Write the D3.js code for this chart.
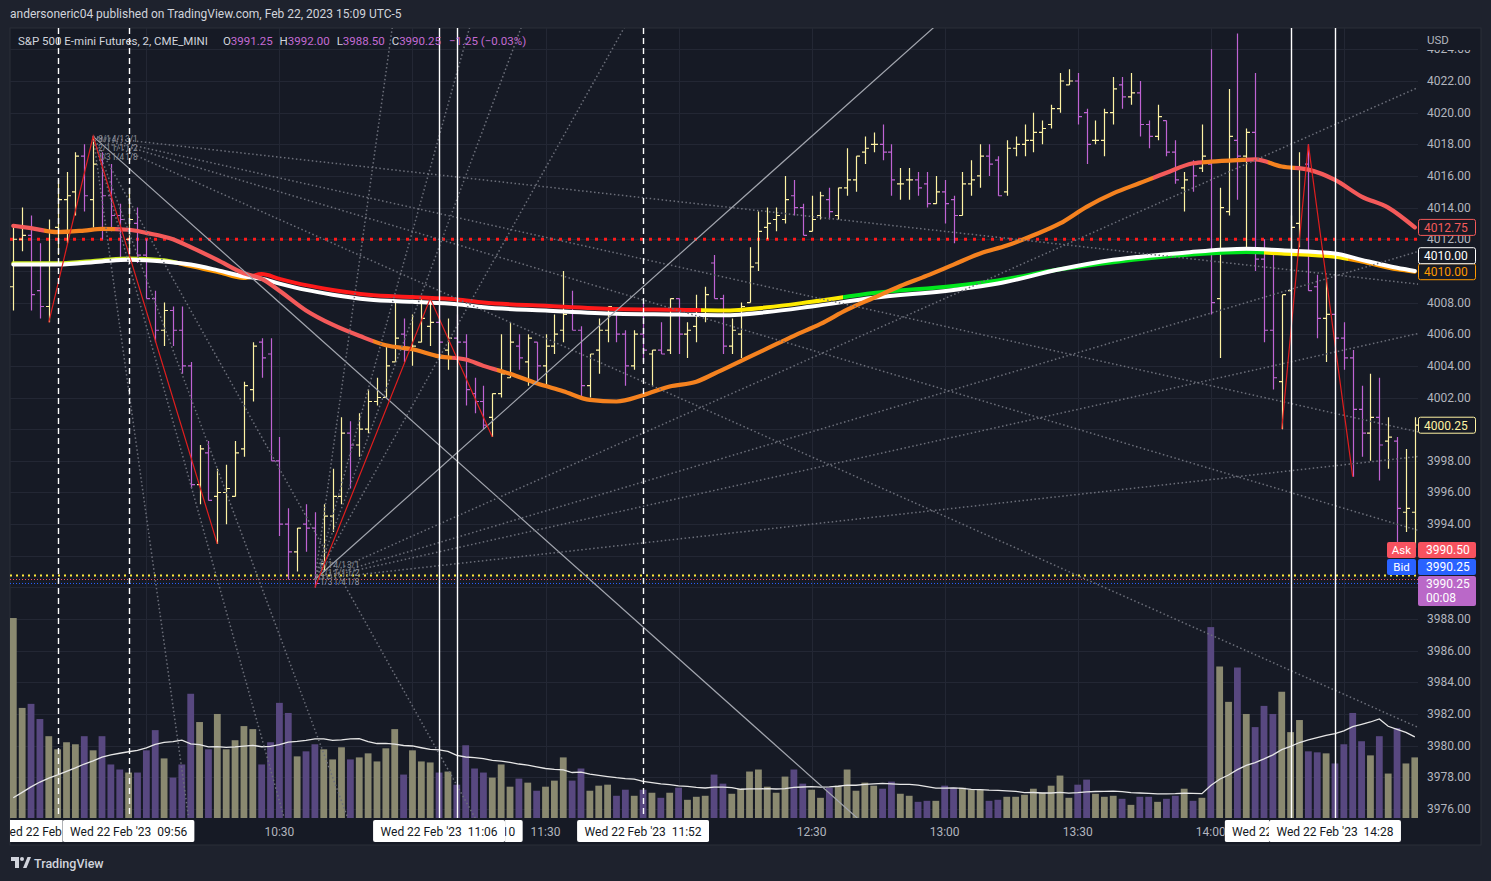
<!DOCTYPE html>
<html><head><meta charset="utf-8"><title>ES 2m</title>
<script src="https://cdn.jsdelivr.net/npm/d3@7/dist/d3.min.js"></script>
<style>html,body{margin:0;padding:0;background:#1e222d;overflow:hidden}svg{display:block}text{font-family:Roboto,"Liberation Sans",sans-serif}</style>
</head><body><svg id="chart" width="1491" height="881"></svg>
<script>
// ---------------- DATA ----------------
const startMinutes = 570;      // 09:30
const intervalMinutes = 2;
const opens = [
4009.0,4012.0,4012.25,4008.75,4007.75,4012.75,4014.5,4015.0,4017.25,4014.5,
4017.0,4014.75,4013.5,4012.0,4013.0,4011.0,4008.25,4006.25,4007.5,4006.25,
4004.0,3996.5,3998.5,3995.75,3996.0,3995.75,3998.75,4002.5,4005.5,4004.75,
3998.0,3994.0,3992.25,3994.0,3993.75,3991.5,3994.5,3995.75,3999.75,3999.0,
4000.0,4001.75,4002.0,4004.25,4006.0,4005.0,4005.5,4006.5,4006.75,4005.0,
4005.75,4005.5,4002.25,4001.75,4000.75,4002.25,4003.25,4005.25,4004.25,4005.5,
4004.0,4005.25,4006.25,4007.5,4006.25,4002.75,4005.0,4006.25,4007.25,4006.0,
4004.0,4006.0,4004.75,4005.0,4005.0,4008.25,4006.0,4006.5,4007.5,4010.5,
4008.25,4005.25,4006.0,4008.0,4010.5,4012.75,4013.25,4013.25,4014.75,4014.0,
4012.5,4013.5,4014.5,4013.5,4015.25,4015.75,4017.5,4018.0,4018.0,4017.5,
4015.5,4015.75,4015.75,4015.5,4014.25,4015.0,4014.5,4013.5,4015.5,4016.0,
4017.25,4017.0,4015.0,4017.75,4018.0,4018.25,4018.75,4019.25,4020.25,4021.75,
4022.0,4020.0,4018.25,4018.25,4020.0,4021.75,4021.0,4021.25,4019.25,4018.5,
4019.5,4017.5,4015.25,4016.75,4016.5,4016.75,4008.25,4013.75,4018.25,4017.25,
4018.75,4010.75,4006.25,4003.0,4008.75,4013.0,4016.75,4009.0,4007.0,4007.25,
4005.75,4004.5,4001.25,3999.75,4000.75,3999.25,3999.25,3994.75,3994.75];
const highs = [
4012.75,4014.0,4013.5,4011.75,4013.25,4015.75,4016.25,4017.5,4018.0,4018.5,
4017.5,4016.75,4014.25,4015.25,4014.0,4012.0,4008.75,4008.0,4007.75,4007.75,
4004.25,3999.0,3999.25,3997.5,3997.75,3999.25,4003.0,4005.5,4005.75,4005.75,
3999.5,3995.0,3993.75,3995.25,3994.75,3995.25,3997.5,4000.75,4000.5,4001.0,
4002.5,4003.25,4005.25,4008.0,4007.0,4007.25,4008.25,4008.25,4007.75,4007.0,
4007.25,4006.0,4003.25,4002.75,4002.25,4006.0,4006.75,4006.0,4006.0,4005.5,
4006.0,4007.25,4010.0,4008.75,4006.5,4004.75,4007.0,4007.75,4007.25,4006.25,
4006.25,4008.0,4005.0,4006.75,4008.25,4008.25,4006.75,4008.5,4009.0,4011.0,
4008.5,4007.0,4008.0,4011.5,4013.75,4014.0,4014.0,4016.0,4015.75,4014.25,
4014.75,4015.0,4015.25,4015.25,4017.75,4017.25,4018.5,4018.75,4019.25,4018.0,
4016.5,4016.5,4016.25,4016.25,4016.0,4015.75,4014.75,4016.25,4017.0,4018.0,
4018.0,4017.25,4018.25,4018.5,4019.25,4020.0,4019.5,4020.5,4022.5,4022.75,
4022.5,4020.25,4019.5,4020.25,4022.25,4022.25,4022.5,4022.0,4019.5,4020.5,
4019.5,4018.25,4016.25,4017.0,4019.25,4024.0,4015.25,4021.5,4025.0,4019.0,
4022.5,4012.0,4011.25,4008.5,4013.5,4017.5,4018.0,4009.75,4009.5,4009.75,
4006.75,4005.0,4002.75,4003.5,4003.25,4000.75,3999.5,3998.75,4000.75];
const lows = [
4007.5,4011.25,4007.5,4007.0,4006.75,4011.0,4011.75,4013.5,4013.75,4012.75,
4012.0,4012.5,4010.75,4010.75,4010.5,4008.25,4005.5,4005.25,4005.25,4003.5,
3996.25,3995.25,3995.5,3992.75,3994.0,3995.75,3998.25,4001.75,4003.25,3998.0,
3993.25,3990.5,3991.0,3992.25,3990.0,3991.0,3993.5,3995.25,3996.25,3998.25,
3999.75,4001.5,4002.0,4004.25,4004.25,4004.0,4005.5,4005.25,4004.5,4003.75,
4004.25,4001.5,4001.0,4000.0,3999.5,4002.0,4003.25,4003.75,4002.75,4003.0,
4002.75,4004.75,4005.5,4006.25,4002.0,4002.0,4003.5,4005.5,4005.5,4002.75,
4003.75,4004.25,4002.75,4004.75,4004.75,4004.75,4004.5,4005.5,4006.75,4008.25,
4004.75,4004.75,4004.5,4008.0,4010.0,4012.0,4012.5,4013.0,4013.5,4012.25,
4012.5,4013.25,4013.25,4013.25,4014.75,4015.0,4016.75,4017.5,4017.0,4014.75,
4014.5,4014.5,4014.75,4014.0,4014.25,4013.0,4011.75,4013.5,4014.75,4015.25,
4016.0,4014.75,4014.75,4017.25,4017.25,4017.5,4018.0,4019.0,4020.0,4021.75,
4019.25,4016.75,4018.0,4017.25,4019.25,4020.25,4020.5,4018.5,4017.75,4018.25,
4017.25,4015.5,4013.75,4015.0,4016.25,4007.25,4004.5,4013.5,4014.5,4011.5,
4010.0,4005.5,4002.5,4000.0,4008.5,4011.5,4008.75,4005.75,4004.25,4004.25,
4003.75,3997.0,3998.25,3998.0,3996.75,3997.5,3992.75,3993.5,3992.5];
const closes = [
4012.0,4012.25,4008.5,4007.75,4012.5,4014.5,4014.75,4017.25,4014.75,4016.75,
4014.75,4013.5,4013.25,4013.25,4011.0,4008.25,4006.25,4007.5,4006.25,4004.0,
3996.5,3998.75,3995.5,3996.0,3996.25,3998.5,4002.75,4005.25,4004.5,3998.0,
3994.0,3992.25,3993.75,3993.75,3990.25,3994.5,3995.75,3999.75,3999.0,4000.0,
4001.75,4002.0,4004.0,4005.75,4005.0,4005.25,4007.0,4006.75,4005.5,4005.75,
4005.5,4002.5,4001.75,4000.25,4002.25,4003.5,4005.5,4004.5,4005.75,4004.0,
4005.25,4006.0,4007.25,4006.25,4002.75,4004.75,4006.25,4007.75,4006.0,4004.0,
4006.0,4005.0,4005.0,4004.75,4008.25,4006.0,4006.25,4007.5,4008.5,4008.25,
4005.25,4006.25,4007.75,4010.25,4012.5,4013.0,4013.5,4014.5,4014.0,4012.25,
4013.25,4014.75,4013.75,4015.25,4015.75,4017.25,4017.75,4018.0,4017.5,4015.75,
4015.5,4015.75,4015.25,4014.25,4015.0,4014.25,4013.5,4015.5,4015.75,4017.25,
4016.75,4014.75,4017.75,4018.0,4018.25,4018.75,4019.0,4020.25,4022.0,4022.0,
4019.75,4018.0,4018.25,4020.0,4021.5,4021.0,4021.25,4019.25,4018.5,4019.75,
4017.5,4015.75,4015.75,4016.0,4017.25,4008.0,4014.0,4018.5,4017.25,4018.75,
4010.75,4006.25,4003.25,4008.5,4012.75,4016.5,4008.75,4007.0,4007.25,4005.75,
4004.5,4001.25,3999.75,4000.75,3999.0,3999.5,3995.0,3995.0,4000.25];
// volume, thousands of contracts
const volumes = [
19.8,10.9,11.3,9.8,8.1,6.8,7.5,7.3,8.1,6.7,
8.1,5.3,4.8,4.5,4.5,6.7,8.7,5.9,4.0,5.3,
12.3,9.5,6.8,10.3,6.8,7.7,9.1,8.8,5.3,7.5,
11.4,10.4,6.1,6.6,7.3,6.8,5.8,7.0,5.8,6.0,
6.4,5.6,6.9,8.8,4.3,6.7,5.6,5.5,4.5,4.6,
3.3,7.2,4.9,4.5,4.0,5.3,3.1,3.9,3.5,2.7,
3.1,3.7,6.0,3.7,4.9,2.7,3.2,3.3,2.2,2.8,
2.2,2.8,2.5,2.0,2.5,3.0,1.8,2.1,2.2,4.3,
3.4,2.4,2.9,4.6,4.8,3.1,2.5,4.1,4.8,3.4,
2.8,2.0,3.0,3.2,4.8,2.7,3.5,3.2,2.9,3.6,
2.4,2.2,1.6,1.7,1.7,3.2,3.0,3.0,2.8,2.8,
1.7,1.8,2.1,2.1,2.3,2.9,2.5,3.2,4.2,2.0,
3.3,3.8,2.4,2.1,2.2,1.9,1.3,2.1,2.1,1.6,
1.9,2.2,2.9,1.7,2.0,18.9,15.0,11.5,14.9,10.3,
9.0,11.1,10.3,12.5,8.5,9.7,6.6,6.5,6.4,5.4,
7.3,10.4,7.6,6.2,8.1,4.4,8.9,5.4,6.0];
const preVolumes = [0.2,0.3,0.3,0.3,0.4,0.4,0.5,0.5,0.5,0.5,1.2,1.4,1.5,1.6,1.8,1.9,2.0,2.3,2.6];
const volMaLength = 20;
// fast moving average
const fastIdx = [0,2,5,8,10,13,15,18,20,23,26,28,30,33,36,39,42,45,48,51,53,56,59,62,65,68,71,74,77,79,82,85,88,91,94,97,100,103,106,109,112,115,118,121,124,127,130,133,135,138,140,143,146,149,152,155,158];
const fastVal = [4012.85,4012.7,4012.45,4012.55,4012.65,4012.6,4012.4,4012.0,4011.5,4010.7,4009.85,4009.5,4008.75,4007.5,4006.6,4005.9,4005.3,4005.05,4004.6,4004.4,4004.0,4003.5,4002.9,4002.4,4001.85,4001.75,4002.15,4002.7,4003.0,4003.5,4004.3,4005.1,4005.9,4006.65,4007.55,4008.3,4009.05,4009.7,4010.4,4011.1,4011.6,4012.25,4013.0,4014.05,4014.9,4015.55,4016.2,4016.8,4016.9,4017.0,4017.05,4016.6,4016.4,4015.75,4014.7,4014.0,4012.75];
const fastTrend = ['dn','dn','up','up','up','dn','dn','dn','dn','dn','dn','dn','dn','dn','dn','dn','up','up','up','dn','dn','up','up','up','up','up','up','up','up','up','up','up','up','up','up','up','up','up','up','up','up','up','up','up','up','up','dn','dn','up','up','dn','up','dn','dn','dn','dn','dn'];
// slow moving averages
const slowIdx = [0,5,10,13,17,20,23,26,28,30,33,36,40,45,50,53,60,68,75,80,85,90,97,106,111,118,124,132,139,143,149,152,156,158];
const slowWhite = [4010.4,4010.4,4010.6,4010.7,4010.6,4010.4,4010.05,4009.65,4009.5,4009.2,4008.8,4008.5,4008.2,4008.05,4007.9,4007.7,4007.5,4007.3,4007.25,4007.2,4007.4,4007.75,4008.3,4008.8,4009.2,4010.1,4010.7,4011.15,4011.4,4011.3,4011.1,4010.7,4010.2,4010.0];
const slowColor = [4010.48,4010.48,4010.68,4010.78,4010.68,4010.3,4009.95,4009.55,4009.8,4009.5,4009.1,4008.8,4008.5,4008.35,4008.2,4008.0,4007.8,4007.6,4007.55,4007.5,4007.7,4008.05,4008.6,4009.05,4009.4,4010.1,4010.55,4011.0,4011.2,4011.1,4010.9,4010.6,4010.1,4009.95];
const slowTrend = ['yg','yg','yg','yg','yg','or','or','or','red','red','red','red','red','red','red','red','red','red','red','yel','yel','yel','grn','grn','grn','grn','grn','grn','grn','yel','yel','or','or','or'];
// drawings
const levelRed = 4012.0, levelYellow = 3990.75;
const askPrice = 3990.50, bidPrice = 3990.25, lastPrice = 3990.25, countdown = '00:08';
const zigzagBars = [[4,9,23],[34,47,54],[143,146,151]];
const zigzagPrices = [[4006.75,4018.5,3992.75],[3990.0,4008.25,3999.5],[4000.0,4018.0,3997.0]];
const fanAnchorBars = [9,34], fanAnchorPrices = [4018.5,3990.5], fanDirections = [-1,1];
const gannUnit = 0.5; // points per bar for 1/1
const gannRatios = [8,4,3,2,1,1/2,1/3,1/4,1/8];
const gannLabels = ['8/1','4/1','3/1','2/1','1/1','1/2','1/3','1/4','1/8'];
const dashedVerticalBars = [5,13,71];
const solidVerticalBars = [48,50,144,149];
const timeMarkerBars = [5,13,50,48,71,144,149];
const priceTicks = [3976,3978,3980,3982,3984,3986,3988,3990,3992,3994,3996,3998,4000,4002,4004,4006,4008,4010,4012,4014,4016,4018,4020,4022,4024];
const timeTickBars = [15,30,45,60,75,90,105,120,135,150];
const dateLabel = "Wed 22 Feb '23";
const headerText = 'andersoneric04 published on TradingView.com, Feb 22, 2023 15:09 UTC-5';
const symbolText = 'S&P 500 E-mini Futures, 2, CME_MINI';
const legendO = 3991.25, legendH = 3992.00, legendL = 3988.50, legendC = 3990.25, legendChg = '\u22121.25 (\u22120.03%)';

// ---------------- DRAW ----------------
const W=1491,H=881, PL=10, PR=1418, PT=28, PB=818;
const svg = d3.select('#chart');
const defs = svg.append('defs');
defs.append('clipPath').attr('id','pane').append('rect').attr('x',PL).attr('y',PT).attr('width',PR-PL).attr('height',PB-PT);
defs.append('clipPath').attr('id','paxis').append('rect').attr('x',PR).attr('y',50).attr('width',63).attr('height',PB-50);
let clipN = 0;
function clipRect(x0,x1,y0,y1){ const id='cl'+(clipN++); defs.append('clipPath').attr('id',id).append('rect').attr('x',x0).attr('y',y0).attr('width',Math.max(0,x1-x0)).attr('height',y1-y0); return 'url(#'+id+')'; }

const n = closes.length;
const x = d3.scaleLinear().domain([0,158]).range([13.3,1414.8]);
const y = d3.scaleLinear().domain([3976,4022]).range([809,81]);
const yv = d3.scaleLinear().domain([0,20]).range([PB,PB-202]);
const fmt = d3.format('.2f');
const timeOf = i => { const m = startMinutes + intervalMinutes*i; return String(Math.floor(m/60)).padStart(2,'0')+':'+String(m%60).padStart(2,'0'); };

const UP='#fff3a3', DN='#bf63d3', VUP='#8a8970', VDN='#584880';
const isUp = i => closes[i] >= opens[i];

svg.append('rect').attr('width',W).attr('height',H).attr('fill','#1e222d');
svg.append('rect').attr('x',PL).attr('y',PT).attr('width',1471).attr('height',817).attr('fill','#161a25').attr('stroke','#2a2e39');

// grid
const grid = svg.append('g').attr('clip-path','url(#pane)');
priceTicks.forEach(p => { const yy=Math.round(y(p))+0.5; grid.append('line').attr('x1',PL).attr('x2',PR).attr('y1',yy).attr('y2',yy).attr('stroke','#232734'); });
timeTickBars.forEach(b => { const xx=Math.round(x(b))+0.5; grid.append('line').attr('x1',xx).attr('x2',xx).attr('y1',PT).attr('y2',PB).attr('stroke','#232734'); });

// volume
const vg = svg.append('g').attr('clip-path','url(#pane)');
vg.selectAll('rect').data(volumes).join('rect')
  .attr('x',(d,i)=>x(i)-3.4).attr('width',6.8)
  .attr('y',d=>yv(d)).attr('height',d=>PB-yv(d))
  .attr('fill',(d,i)=>isUp(i)?VUP:VDN);
const allVol = preVolumes.concat(volumes);
const volMa = volumes.map((d,i)=>d3.mean(allVol.slice(i+preVolumes.length-volMaLength+1, i+preVolumes.length+1)));
vg.append('path').datum(volMa).attr('fill','none').attr('stroke','#e6e6e6').attr('stroke-width',1.3)
  .attr('d', d3.line().x((d,i)=>x(i)).y(d=>yv(d)));

// horizontal levels
const lv = svg.append('g').attr('clip-path','url(#pane)');
lv.append('line').attr('x1',PL).attr('x2',PR).attr('y1',y(levelRed)).attr('y2',y(levelRed)).attr('stroke','#ff1a1a').attr('stroke-width',3).attr('stroke-dasharray','3,6');
lv.append('line').attr('x1',PL).attr('x2',PR).attr('y1',y(levelYellow)).attr('y2',y(levelYellow)).attr('stroke','#ffeb3b').attr('stroke-width',2).attr('stroke-dasharray','2,4');
lv.append('line').attr('x1',PL).attr('x2',PR).attr('y1',y(askPrice)).attr('y2',y(askPrice)).attr('stroke','#f7525f').attr('stroke-width',1).attr('stroke-dasharray','1,2');
lv.append('line').attr('x1',PL).attr('x2',PR).attr('y1',y(bidPrice)).attr('y2',y(bidPrice)).attr('stroke','#2962ff').attr('stroke-width',1).attr('stroke-dasharray','1,2');

// OHLC bars
const bg = svg.append('g').attr('clip-path','url(#pane)');
bg.selectAll('path').data(closes).join('path')
  .attr('fill','none').attr('stroke',(d,i)=>isUp(i)?UP:DN).attr('stroke-width',1.2)
  .attr('d',(d,i)=>{ const xx=Math.round(x(i))+0.5; return `M${xx},${y(highs[i])}V${y(lows[i])}M${xx-3.5},${y(opens[i])}H${xx}M${xx},${y(closes[i])}H${xx+3.5}`; });

// moving averages with trend colouring
function trendGradient(id, idx, trend, cmap){
  const g = defs.append('linearGradient').attr('id',id).attr('gradientUnits','userSpaceOnUse')
    .attr('x1',x(0)).attr('x2',x(158)).attr('y1',0).attr('y2',0);
  const span = x(158)-x(0);
  let prev = cmap[trend[0]];
  g.append('stop').attr('offset',0).attr('stop-color',prev);
  for(let k=1;k<idx.length;k++){
    const c = cmap[trend[k]];
    if(c!==prev){
      const t = ((x(idx[k-1])+x(idx[k]))/2 - x(0))/span;
      g.append('stop').attr('offset',t).attr('stop-color',prev);
      g.append('stop').attr('offset',t).attr('stop-color',c);
      prev = c;
    }
  }
  g.append('stop').attr('offset',1).attr('stop-color',prev);
}
trendGradient('gSlow', slowIdx, slowTrend, {yg:'#c9ec1c',or:'#ff9800',red:'#ff1a1a',yel:'#ffeb00',grn:'#00e61c'});
trendGradient('gFast', fastIdx, fastTrend, {up:'#f5821f',dn:'#f45a5a'});
const ma = svg.append('g').attr('clip-path','url(#pane)');
const lineGen = d3.line().x(d=>x(d[0])).y(d=>y(d[1])).curve(d3.curveMonotoneX);
ma.append('path').attr('d',lineGen(slowIdx.map((b,k)=>[b,slowColor[k]]))).attr('fill','none').attr('stroke','url(#gSlow)').attr('stroke-width',4).attr('stroke-linecap','round');
ma.append('path').attr('d',lineGen(slowIdx.map((b,k)=>[b,slowWhite[k]]))).attr('fill','none').attr('stroke','#ffffff').attr('stroke-width',4).attr('stroke-linecap','round');
ma.append('path').attr('d',lineGen(fastIdx.map((b,k)=>[b,fastVal[k]]))).attr('fill','none').attr('stroke','url(#gFast)').attr('stroke-width',4.2).attr('stroke-linecap','round');

// drawings
const dr = svg.append('g').attr('clip-path','url(#pane)');
fanAnchorBars.forEach((b0,f)=>{
  const p0=fanAnchorPrices[f], dir=fanDirections[f];
  gannRatios.forEach((r,k)=>{
    const far=400;
    dr.append('line').attr('x1',x(b0)).attr('y1',y(p0)).attr('x2',x(b0+far)).attr('y2',y(p0+dir*gannUnit*r*far))
      .attr('stroke', r===1?'#a3a6af':'#6c6f7a').attr('stroke-width', r===1?1.2:1.5)
      .attr('stroke-dasharray', r===1?null:'1.5,2.5');
  });
  // Gann ratio labels packed in a small cluster beside the anchor
  const ax=x(b0), ay=y(p0);
  gannLabels.forEach((lab,k)=>{
    const col=k%3, row=Math.floor(k/3);
    const lx = ax + 5 + col*13.5;
    const ly = dir<0 ? ay + 3 + row*8.6 : ay - 15 + row*8.6;
    dr.append('text').attr('x',lx).attr('y',ly).attr('dominant-baseline','central').attr('fill','#8f929b').attr('font-size',8.2).text(lab);
  });
});
zigzagBars.forEach((bars,z)=>{
  dr.append('path').attr('d', d3.line().x(d=>x(d[0])).y(d=>y(d[1]))(bars.map((b,k)=>[b,zigzagPrices[z][k]])))
    .attr('fill','none').attr('stroke','#e01e1e').attr('stroke-width',1.2);
});
dashedVerticalBars.forEach(b=>{ const xx=Math.round(x(b))+0.5; dr.append('line').attr('x1',xx).attr('x2',xx).attr('y1',PT).attr('y2',PB).attr('stroke','#ffffff').attr('stroke-width',1.4).attr('stroke-dasharray','6,4'); });
solidVerticalBars.forEach(b=>{ const xx=Math.round(x(b))+0.5; dr.append('line').attr('x1',xx).attr('x2',xx).attr('y1',PT).attr('y2',PB).attr('stroke','#ffffff').attr('stroke-width',1.4); });

// price axis: tick labels whose centre lies under a value box are hidden (as in the terminal)
const lastFast = fastVal[fastVal.length-1], lastWhite = slowWhite[slowWhite.length-1], lastColorMa = slowColor[slowColor.length-1], lastClose = closes[n-1];
const lastTop = y(lastPrice)-7.5;
const axisBoxes = [
  [y(lastFast)-8, y(lastFast)+8], [y(lastColorMa)-24, y(lastColorMa)+8], [y(lastClose)-8, y(lastClose)+8],
  [lastTop-34, lastTop+30]
];
const pa = svg.append('g').attr('clip-path','url(#paxis)');
priceTicks.forEach(p=>{
  const yy=y(p);
  if(axisBoxes.some(([a,b])=> yy>=a-1 && yy<=b+1)) return;
  pa.append('text').attr('x',1427).attr('y',yy).attr('dominant-baseline','central').attr('fill','#b2b5be').attr('font-size',12).text(fmt(p));
});
svg.append('text').attr('x',1427).attr('y',40).attr('dominant-baseline','central').attr('fill','#b2b5be').attr('font-size',11.5).text('USD');
function priceBox(cy, txt, stroke, fill, color){
  svg.append('rect').attr('x',1418.5).attr('y',cy-8).attr('width',57).attr('height',16).attr('rx',2).attr('fill',fill).attr('stroke',stroke);
  svg.append('text').attr('x',1424).attr('y',cy+0.5).attr('dominant-baseline','central').attr('fill',color).attr('font-size',12).text(txt);
}
priceBox(y(lastFast), fmt(lastFast), '#f45a5a', '#161a25', '#f45a5a');
priceBox(y(lastColorMa), fmt(Math.round(lastColorMa*4)/4), '#ff9800', '#161a25', '#ff9800');
priceBox(y(lastColorMa)-16, fmt(lastWhite), '#ffffff', '#161a25', '#ffffff');
priceBox(y(lastClose), fmt(lastClose), '#fff3a3', '#161a25', '#fff3a3');
svg.append('rect').attr('x',1418).attr('y',lastTop).attr('width',58).attr('height',30).attr('rx',2).attr('fill','#ba68c8');
svg.append('text').attr('x',1426).attr('y',lastTop+8).attr('dominant-baseline','central').attr('fill','#ffffff').attr('font-size',12).text(fmt(lastPrice));
svg.append('text').attr('x',1426).attr('y',lastTop+22).attr('dominant-baseline','central').attr('fill','#ffffff').attr('font-size',12).text(countdown);
function sideBox(cy, name, val, col){
  svg.append('rect').attr('x',1387).attr('y',cy-8).attr('width',29).attr('height',16).attr('rx',2).attr('fill',col);
  svg.append('text').attr('x',1401.5).attr('y',cy+0.5).attr('text-anchor','middle').attr('dominant-baseline','central').attr('fill','#ffffff').attr('font-size',11.5).text(name);
  svg.append('rect').attr('x',1418).attr('y',cy-8).attr('width',58).attr('height',16).attr('rx',2).attr('fill',col);
  svg.append('text').attr('x',1426).attr('y',cy+0.5).attr('dominant-baseline','central').attr('fill','#ffffff').attr('font-size',12).text(fmt(val));
}
sideBox(lastTop-9, 'Bid', bidPrice, '#2962ff');
sideBox(lastTop-26, 'Ask', askPrice, '#f7525f');

// time axis: marker boxes cover regular ticks; only the visible characters of partly covered texts are kept
const BOXW = 132;
const boxes = timeMarkerBars.map(b=>[x(b)-BOXW/2, x(b)+BOXW/2]);
function visiblePart(a, bEnd, covers){
  for(const [c,d] of covers){
    if(c<=a && d>=bEnd) return null;
    if(c>a && c<bEnd) bEnd=c;
    else if(d>a && d<bEnd && c<=a) a=d;
  }
  return [Math.max(a,PL), Math.min(bEnd,PR)];
}
function fragmentText(parent, str, cx, yy, vis, fill){
  const t = parent.append('text').attr('x',cx).attr('y',yy).attr('text-anchor','middle').attr('dominant-baseline','central')
    .attr('fill',fill).attr('font-size',12).style('white-space','pre').text(str);
  const node=t.node(); const N=str.length;
  let first=-1,last=-1;
  try{
    for(let i=0;i<N;i++){
      const s=node.getStartPositionOfChar(i).x, e=node.getEndPositionOfChar(i).x;
      if(e>vis[0]+0.5 && s<vis[1]-0.5){ if(first<0) first=i; last=i; }
    }
  }catch(err){ return; }
  if(first<0){ t.remove(); return; }
  if(first>0 || last<N-1){
    const sx=node.getStartPositionOfChar(first).x;
    t.attr('text-anchor','start').attr('x',sx).text(str.slice(first,last+1));
  }
}
timeTickBars.forEach(b=>{
  const cx=x(b), vis=visiblePart(cx-16, cx+16, boxes);
  if(!vis) return;
  const g=svg.append('g').attr('clip-path',clipRect(vis[0],vis[1],PB,PB+27));
  fragmentText(g, timeOf(b), cx, 832, vis, '#b2b5be');
});
timeMarkerBars.forEach((b,k)=>{
  const cx=x(b);
  const vis=visiblePart(cx-BOXW/2, cx+BOXW/2, boxes.slice(k+1));
  if(!vis) return;
  const g=svg.append('g').attr('clip-path',clipRect(vis[0],vis[1],PB,PB+27));
  g.append('rect').attr('x',cx-BOXW/2).attr('y',820).attr('width',BOXW).attr('height',22).attr('rx',2).attr('fill','#ffffff');
  fragmentText(g, dateLabel+'  '+timeOf(b), cx, 831.5, vis, '#131722');
});

// header & legend
svg.append('text').attr('x',10).attr('y',14).attr('dominant-baseline','central').attr('fill','#d1d4dc').attr('font-size',12).text(headerText);
const lg = svg.append('text').attr('x',18).attr('y',41).attr('dominant-baseline','central').attr('font-size',11.5).attr('fill','#d1d4dc').style('white-space','pre');
lg.append('tspan').text(symbolText);
[['O',legendO],['H',legendH],['L',legendL],['C',legendC]].forEach(([k,v],j)=>{
  lg.append('tspan').attr('dx', j===0?15:7).attr('fill','#d1d4dc').text(k);
  lg.append('tspan').attr('fill','#c46bd4').text(fmt(v));
});
lg.append('tspan').attr('dx',8).attr('fill','#c46bd4').text(legendChg);

// footer logo
const lo = svg.append('g').attr('fill','#d1d4dc');
lo.append('rect').attr('x',11).attr('y',857).attr('width',8).attr('height',4);
lo.append('rect').attr('x',15).attr('y',857).attr('width',4).attr('height',11);
lo.append('circle').attr('cx',22).attr('cy',859).attr('r',2);
lo.append('path').attr('d','M23,868 L27.5,857 L31,857 L26.5,868 Z');
svg.append('text').attr('x',34).attr('y',863).attr('dominant-baseline','central').attr('fill','#d1d4dc').attr('font-size',12.5).attr('font-weight',500).text('TradingView');
</script></body></html>
